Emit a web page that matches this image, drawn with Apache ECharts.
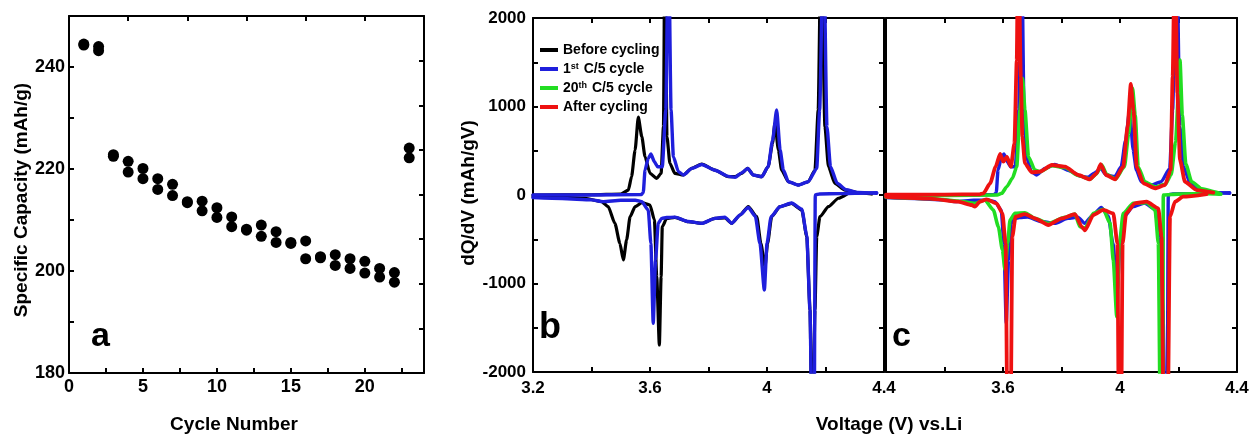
<!DOCTYPE html>
<html><head><meta charset="utf-8">
<script src="https://cdn.jsdelivr.net/npm/echarts@6/dist/echarts.min.js"></script>
<style>html,body{margin:0;padding:0;background:#fff}#c{width:1252px;height:434px}</style>
</head><body><div id="c"></div>
<script>
// ---- Panel a: specific capacity vs cycle ----
const cycles = [1,2,3,4,5,6,7,8,9,10,11,12,13,14,15,16,17,18,19,20,21,22,23];
const capacityHigh = [244.3,244.0,222.8,221.5,220.1,218.1,217.0,213.6,213.7,212.4,210.6,208.2,209.0,207.7,205.6,205.9,202.8,203.2,202.4,201.9,200.5,199.7,224.1];
const capacityLow  = [244.5,243.2,222.5,219.4,218.1,216.0,214.8,213.4,211.8,210.5,208.7,208.0,206.8,205.6,205.4,202.4,202.6,201.1,200.5,199.6,198.8,197.8,222.2];
const capTicks = [180,200,220,240];

// ---- Panels b, c: dQ/dV vs voltage ([V, mAh/gV]) ----
const beforeCharge = [[3.20,0],[3.40,3],[3.50,10],[3.526,56],[3.537,207],[3.549,508],[3.560,880],[3.572,659],[3.583,433],[3.600,245],[3.623,188],[3.638,245],[3.646,772],[3.651,3000],[3.658,660],[3.668,358],[3.685,245],[3.714,226],[3.743,301],[3.777,350],[3.822,282],[3.868,207],[3.891,207],[3.913,245],[3.934,301],[3.953,226],[3.982,207],[4.004,320],[4.019,584],[4.027,810],[4.039,508],[4.050,282],[4.073,150],[4.107,113],[4.141,150],[4.164,282],[4.175,960],[4.185,3000],[4.198,772],[4.210,320],[4.232,132],[4.267,56],[4.312,26],[4.358,11]];
const beforeDischarge = [[3.20,-20],[3.30,-25],[3.378,-37],[3.435,-75],[3.457,-132],[3.480,-320],[3.497,-546],[3.509,-734],[3.520,-508],[3.532,-245],[3.549,-132],[3.572,-87],[3.600,-113],[3.615,-282],[3.623,-923],[3.632,-1695],[3.638,-923],[3.642,-358],[3.657,-264],[3.685,-252],[3.731,-301],[3.777,-320],[3.822,-264],[3.856,-260],[3.879,-320],[3.908,-226],[3.936,-132],[3.965,-245],[3.979,-546],[3.993,-810],[4.002,-546],[4.016,-245],[4.044,-132],[4.084,-94],[4.119,-169],[4.136,-471],[4.147,-1299],[4.155,-3000],[4.164,-1299],[4.170,-471],[4.181,-245],[4.210,-132],[4.244,-37],[4.273,11]];
const firstCharge = [[3.20,0],[3.40,0],[3.57,5],[3.577,26],[3.583,282],[3.594,414],[3.603,463],[3.615,376],[3.626,320],[3.642,320],[3.654,960],[3.663,3000],[3.672,960],[3.680,433],[3.697,264],[3.714,226],[3.743,301],[3.777,345],[3.822,280],[3.868,210],[3.891,200],[3.913,250],[3.934,300],[3.953,226],[3.982,207],[4.004,320],[4.019,620],[4.033,960],[4.045,508],[4.056,282],[4.073,150],[4.107,113],[4.141,150],[4.170,300],[4.180,960],[4.193,3000],[4.205,772],[4.217,320],[4.240,132],[4.27,60],[4.31,30],[4.375,20]];
const firstDischarge = [[3.20,-30],[3.30,-40],[3.40,-55],[3.44,-75],[3.50,-60],[3.55,-60],[3.572,-75],[3.594,-170],[3.603,-546],[3.611,-1450],[3.619,-734],[3.628,-320],[3.640,-264],[3.657,-255],[3.685,-250],[3.731,-300],[3.777,-320],[3.822,-264],[3.856,-250],[3.879,-320],[3.908,-226],[3.936,-140],[3.960,-240],[3.976,-550],[3.991,-1073],[4.000,-546],[4.014,-245],[4.044,-132],[4.084,-90],[4.119,-160],[4.136,-460],[4.147,-1300],[4.155,-3000],[4.161,-3000],[4.165,0],[4.18,12],[4.25,15],[4.30,20],[4.375,25]];
const twentiethCharge = [[3.20,-5],[3.40,-5],[3.58,0],[3.596,19],[3.613,94],[3.632,188],[3.647,320],[3.658,960],[3.667,1318],[3.675,960],[3.687,433],[3.709,282],[3.726,264],[3.767,330],[3.812,310],[3.857,220],[3.897,180],[3.920,240],[3.937,340],[3.955,230],[3.985,180],[4.015,320],[4.030,700],[4.043,1205],[4.052,900],[4.062,320],[4.085,150],[4.120,90],[4.155,120],[4.175,230],[4.190,600],[4.205,1525],[4.213,900],[4.225,350],[4.245,150],[4.28,70],[4.33,30],[4.345,10]];
const twentiethDischarge = [[3.20,-25],[3.35,-40],[3.45,-70],[3.504,-94],[3.538,-56],[3.567,-169],[3.584,-358],[3.598,-621],[3.607,-847],[3.616,-546],[3.624,-282],[3.641,-207],[3.675,-200],[3.709,-264],[3.755,-320],[3.812,-252],[3.846,-215],[3.863,-358],[3.880,-377],[3.909,-207],[3.943,-162],[3.966,-320],[3.977,-734],[3.989,-1375],[3.998,-546],[4.011,-207],[4.045,-94],[4.091,-87],[4.120,-169],[4.131,-546],[4.139,-3000],[4.146,-3000],[4.148,0],[4.20,10],[4.30,15],[4.34,10]];
const afterCharge = [[3.20,5],[3.40,5],[3.52,8],[3.533,19],[3.556,132],[3.575,320],[3.590,463],[3.601,376],[3.613,433],[3.627,320],[3.639,584],[3.647,1525],[3.652,3000],[3.661,1337],[3.666,659],[3.675,358],[3.698,256],[3.726,264],[3.767,339],[3.812,320],[3.857,226],[3.897,177],[3.920,245],[3.934,350],[3.952,226],[3.983,177],[4.011,320],[4.026,772],[4.037,1254],[4.046,960],[4.057,320],[4.080,132],[4.120,76],[4.154,113],[4.173,282],[4.180,1337],[4.188,3000],[4.196,1149],[4.205,395],[4.222,150],[4.262,56],[4.319,26]];
const afterDischarge = [[3.20,-20],[3.35,-40],[3.447,-75],[3.493,-113],[3.504,-132],[3.521,-75],[3.544,-49],[3.578,-94],[3.598,-207],[3.609,-546],[3.616,-3000],[3.625,-3000],[3.632,-471],[3.643,-245],[3.675,-215],[3.709,-264],[3.755,-339],[3.801,-264],[3.846,-215],[3.869,-358],[3.880,-400],[3.909,-226],[3.943,-169],[3.977,-207],[3.991,-546],[3.997,-3000],[4.003,-3000],[4.009,-546],[4.021,-207],[4.051,-94],[4.091,-75],[4.131,-150],[4.142,-471],[4.150,-3000],[4.162,-3000],[4.171,-245],[4.188,-75],[4.216,-19],[4.296,11]];
const voltageTicks = [3.2,3.6,4,4.4];
const dqdvTicks = [-2000,-1000,0,1000,2000];
const seriesNames = ['Before cycling','1st C/5 cycle','20th C/5 cycle','After cycling'];
const seriesColors = ['#000000','#1f1fdc','#22dd22','#ee1111'];

const FONT = '"Liberation Sans", Arial, sans-serif';
const black = '#000';
const lab = (sz) => ({color: black, fontFamily: FONT, fontWeight: 'bold', fontSize: sz});
const axisLine = {show: true, onZero: false, lineStyle: {color: black, width: 2}};
const tickIn = {show: true, inside: true, length: 5, lineStyle: {color: black, width: 2}};
const near = (v, arr) => arr.some(t => Math.abs(v - t) < 1e-6);

function vAxisX(gridIndex, showMin) {
  return [{
    type: 'value', gridIndex, position: 'bottom', min: 3.2, max: 4.4, interval: 0.2,
    axisLine, axisTick: tickIn, splitLine: {show: false},
    axisLabel: Object.assign(lab(17), {margin: 8, showMinLabel: showMin, showMaxLabel: true,
      formatter: v => near(v, voltageTicks) ? String(+(+v).toFixed(1)) : ''})
  }, {
    type: 'value', gridIndex, position: 'top', min: 3.2, max: 4.4, interval: 0.2,
    axisLine, axisTick: tickIn, axisLabel: {show: false}, splitLine: {show: false}
  }];
}
function vAxisY(gridIndex, labels, leftTicks) {
  return [{
    type: 'value', gridIndex, position: 'left', min: -2000, max: 2000, interval: 500,
    axisLine, axisTick: leftTicks ? tickIn : {show: false}, splitLine: {show: false},
    axisLabel: labels ? Object.assign(lab(17), {margin: 7, formatter: v => near(v, dqdvTicks) ? String(v) : ''}) : {show: false}
  }, {
    type: 'value', gridIndex, position: 'right', min: -2000, max: 2000, interval: 500,
    axisLine, axisTick: tickIn, axisLabel: {show: false}, splitLine: {show: false}
  }];
}

const lineS = (name, data, xi, yi, color, w, z) => ({
  type: 'line', name, data, xAxisIndex: xi, yAxisIndex: yi, showSymbol: false, symbol: 'none',
  smooth: 0.2, smoothMonotone: 'x',
  clip: true, animation: false, z: z, lineStyle: {color, width: w, join: 'round', cap: 'round'}, itemStyle: {color}
});

const scatterData = [];
cycles.forEach((c, i) => { scatterData.push([c, capacityHigh[i]]); scatterData.push([c, capacityLow[i]]); });

const option = {
  animation: false,
  backgroundColor: '#fff',
  grid: [
    {left: 69, top: 16, width: 355, height: 357},
    {left: 533, top: 18, width: 351, height: 354},
    {left: 886, top: 18, width: 351, height: 354}
  ],
  xAxis: [
    {type: 'value', gridIndex: 0, position: 'bottom', min: 0, max: 24, interval: 2.5,
     axisLine, axisTick: tickIn, splitLine: {show: false},
     axisLabel: Object.assign(lab(18), {margin: 5, formatter: v => (Math.abs(v % 5) < 1e-6 && v <= 20) ? String(v) : ''})},
    {type: 'value', gridIndex: 0, position: 'top', min: 0, max: 24, interval: 4,
     axisLine, axisTick: tickIn, axisLabel: {show: false}, splitLine: {show: false}},
    ...vAxisX(1, true),
    ...vAxisX(2, false)
  ],
  yAxis: [
    {type: 'value', gridIndex: 0, position: 'left', min: 180, max: 250, interval: 10,
     axisLine, axisTick: tickIn, splitLine: {show: false},
     axisLabel: Object.assign(lab(18), {margin: 4, formatter: v => capTicks.includes(v) ? String(v) : ''})},
    {type: 'value', gridIndex: 0, position: 'right', min: -2000, max: 2000, interval: 500,
     axisLine, axisTick: tickIn, axisLabel: {show: false}, splitLine: {show: false}},
    ...vAxisY(1, true, true),
    ...vAxisY(2, false, false)
  ],
  legend: {
    orient: 'vertical', left: 535, top: 38, itemGap: 5, itemWidth: 18, itemHeight: 4,
    icon: 'rect', data: seriesNames, selectedMode: false,
    textStyle: Object.assign(lab(14), {rich: {sup: {fontFamily: FONT, fontWeight: 'bold', fontSize: 9, verticalAlign: 'top', padding: [0, 1, 5, 0]}}}),
    formatter: n => n.replace(/^(\d+)(st|th)/, '$1{sup|$2}')
  },
  series: [
    {type: 'scatter', xAxisIndex: 0, yAxisIndex: 0, data: scatterData, symbolSize: 11,
     itemStyle: {color: black, opacity: 1}, animation: false},
    lineS(seriesNames[0], beforeCharge, 2, 2, seriesColors[0], 3.2, 2),
    lineS(seriesNames[0], beforeDischarge, 2, 2, seriesColors[0], 3.2, 2),
    lineS(seriesNames[1], firstCharge, 2, 2, seriesColors[1], 3.4, 3),
    lineS(seriesNames[1], firstDischarge, 2, 2, seriesColors[1], 3.4, 3),
    lineS(seriesNames[1], firstCharge, 4, 4, seriesColors[1], 3.4, 2),
    lineS(seriesNames[1], firstDischarge, 4, 4, seriesColors[1], 3.4, 2),
    lineS(seriesNames[2], twentiethCharge, 4, 4, seriesColors[2], 3.6, 3),
    lineS(seriesNames[2], twentiethDischarge, 4, 4, seriesColors[2], 3.6, 3),
    lineS(seriesNames[3], afterCharge, 4, 4, seriesColors[3], 3.8, 4),
    lineS(seriesNames[3], afterDischarge, 4, 4, seriesColors[3], 3.8, 4)
  ],
  graphic: [
    {type: 'text', left: 91, top: 320, style: {text: 'a', font: 'bold 34px ' + FONT, fill: black}},
    {type: 'text', left: 539, top: 310, style: {text: 'b', font: 'bold 36px ' + FONT, fill: black}},
    {type: 'text', left: 892, top: 320, style: {text: 'c', font: 'bold 34px ' + FONT, fill: black}},
    {type: 'text', x: 22, y: 200, rotation: Math.PI / 2,
     style: {text: 'Specific Capacity (mAh/g)', font: 'bold 19px ' + FONT, fill: black, textAlign: 'center', textVerticalAlign: 'middle'}},
    {type: 'text', x: 234, y: 425,
     style: {text: 'Cycle Number', font: 'bold 19px ' + FONT, fill: black, textAlign: 'center', textVerticalAlign: 'middle'}},
    {type: 'text', x: 469, y: 193, rotation: Math.PI / 2,
     style: {text: 'dQ/dV (mAh/gV)', font: 'bold 19px ' + FONT, fill: black, textAlign: 'center', textVerticalAlign: 'middle'}},
    {type: 'text', x: 889, y: 425,
     style: {text: 'Voltage (V) vs.Li', font: 'bold 19px ' + FONT, fill: black, textAlign: 'center', textVerticalAlign: 'middle'}}
  ]
};
const chart = echarts.init(document.getElementById('c'), null, {renderer: 'canvas'});
chart.setOption(option);
</script></body></html>
